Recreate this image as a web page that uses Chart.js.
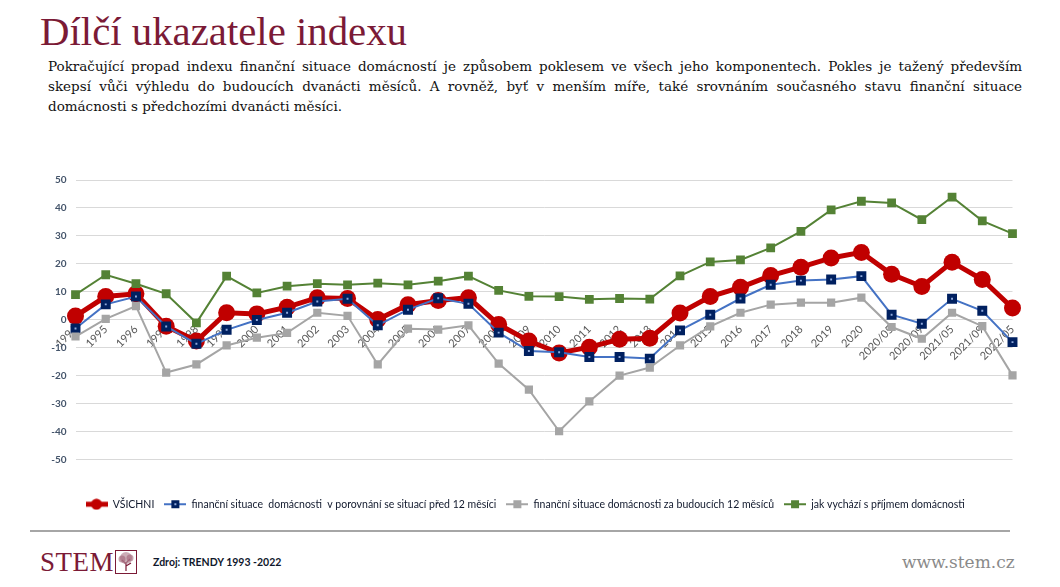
<!DOCTYPE html>
<html lang="cs">
<head>
<meta charset="utf-8">
<title>Dílčí ukazatele indexu</title>
<script src="https://cdn.jsdelivr.net/npm/chart.js@4.4.1/dist/chart.umd.min.js"></script>
<style>
  html, body { margin: 0; padding: 0; background: #fff; }
  body { width: 1060px; height: 587px; position: relative; overflow: hidden; }
  h1 {
    position: absolute; left: 40px; top: 8px; margin: 0;
    font: 40.8px/48px "Liberation Serif", serif; font-weight: normal; color: #7b1a36;
  }
  .intro {
    position: absolute; left: 48px; top: 56px; width: 974px;
    font: 13.5px/20px "DejaVu Serif", serif; color: #111;
  }
  .intro span { display: block; text-align: justify; text-align-last: justify; white-space: nowrap; }
  .intro span.last { text-align-last: left; }
  #wrap { position: absolute; left: 0; top: 160px; width: 1060px; height: 370px; }
  .rule { position: absolute; left: 30px; top: 530px; width: 980px; height: 2px; background: #a6a6a6; }
  .logo {
    position: absolute; left: 40px; top: 547px; margin: 0;
    font: 27px/30px "Liberation Serif", serif; color: #7b1a36; letter-spacing: 0.5px;
  }
  .tree { position: absolute; left: 115px; top: 550px; }
  .source {
    position: absolute; left: 153px; top: 555px;
    font: bold 10.5px/14px Lato, sans-serif; color: #10182c;
  }
  .web {
    position: absolute; left: 902px; top: 551px;
    font: 17px/22px "DejaVu Serif", serif; color: #8a8a8a;
  }
</style>
</head>
<body>
<h1>Dílčí ukazatele indexu</h1>
<div class="intro">
  <span>Pokračující propad indexu finanční situace domácností je způsobem poklesem ve všech jeho komponentech. Pokles je tažený především</span>
  <span>skepsí vůči výhledu do budoucích dvanácti měsíců. A rovněž, byť v menším míře, také srovnáním současného stavu finanční situace</span>
  <span class="last">domácnosti s předchozími dvanácti měsíci.</span>
</div>

<div id="wrap"><canvas id="indexChart"></canvas></div>

<div class="rule"></div>
<div class="logo">STEM</div>
<svg class="tree" width="22" height="24" viewBox="0 0 22 24">
  <rect x="0.5" y="0.5" width="21" height="23" fill="#fff" stroke="#7b1a36"/>
  <path d="M11 21 L11 12 M11 14 L7 10 M11 13 L15 9 M11 16 L16 13" stroke="#7b1a36" stroke-width="1.2" fill="none"/>
  <circle cx="11" cy="8" r="6" fill="#b88a98" opacity="0.7"/>
  <circle cx="7" cy="9" r="3.5" fill="#a06276" opacity="0.6"/>
  <circle cx="15" cy="8" r="3.5" fill="#a06276" opacity="0.6"/>
</svg>
<div class="source">Zdroj: TRENDY 1993 -2022</div>
<div class="web">www.stem.cz</div>

<script>
/* =========================
   DATA
========================= */
const labels = [
  "1994", "1995", "1996", "1997", "1998", "1999", "2000", "2001", "2002", "2003",
  "2004", "2005", "2006", "2007", "2008", "2009", "2010", "2011", "2012", "2013",
  "2014", "2015", "2016", "2017", "2018", "2019", "2020",
  "2020/05", "2020/09", "2021/05", "2021/09", "2022/05"
];

const vsichni = [
  1.3, 8.3, 9.3, -2.3, -7.6, 2.5, 2.1, 4.5, 7.9, 7.6,
  0.1, 5.4, 6.9, 7.9, -1.7, -7.6, -11.9, -9.8, -7.0, -6.6,
  2.4, 8.3, 11.6, 15.8, 18.8, 22.1, 24.1,
  16.3, 11.9, 20.6, 14.4, 4.2
];

const predchozi12 = [
  -3.1, 5.5, 8.3, -2.4, -8.6, -3.6, -0.1, 2.5, 6.5, 7.5,
  -2.0, 3.6, 7.7, 5.7, -4.6, -11.2, -11.6, -13.3, -13.3, -13.9,
  -3.8, 1.8, 7.6, 12.5, 14.0, 14.4, 15.6,
  1.8, -1.4, 7.5, 3.2, -8.0
];

const budoucich12 = [
  -6.0, 0.3, 4.9, -18.9, -16.0, -9.2, -6.4, -4.7, 2.5, 1.4,
  -16.0, -3.2, -3.5, -2.0, -15.7, -25.0, -39.9, -29.2, -20.0, -17.1,
  -9.2, -2.4, 2.5, 5.4, 6.1, 6.1, 7.9,
  -2.6, -6.8, 2.5, -2.3, -19.9
];

const prijem = [
  9.0, 16.1, 12.9, 9.3, -1.1, 15.6, 9.6, 12.0, 12.9, 12.5,
  13.1, 12.5, 13.8, 15.6, 10.5, 8.4, 8.3, 7.3, 7.6, 7.4,
  15.7, 20.7, 21.4, 25.7, 31.6, 39.3, 42.4,
  41.8, 35.8, 43.9, 35.4, 30.8
];

const seriesNames = [
  "VŠICHNI",
  "finanční situace  domácnosti  v porovnání se situací před 12 měsíci",
  "finanční situace domácnosti za budoucích 12 měsíců",
  "jak vychází s příjmem domácnosti"
];

/* =========================
   LEGEND ICONS (line + marker)
========================= */
function legendIcon(draw) {
  const c = document.createElement("canvas");
  c.width = 22;
  c.height = 12;
  draw(c.getContext("2d"));
  return c;
}

const icons = [
  legendIcon(ctx => {
    ctx.strokeStyle = "#c00000"; ctx.lineWidth = 5;
    ctx.beginPath(); ctx.moveTo(0, 6); ctx.lineTo(22, 6); ctx.stroke();
    ctx.fillStyle = "#c00000";
    ctx.beginPath(); ctx.arc(11, 6, 5.5, 0, Math.PI * 2); ctx.fill();
  }),
  legendIcon(ctx => {
    ctx.strokeStyle = "#4472c4"; ctx.lineWidth = 2;
    ctx.beginPath(); ctx.moveTo(0, 6); ctx.lineTo(22, 6); ctx.stroke();
    ctx.fillStyle = "#002060"; ctx.fillRect(7, 2, 8, 8);
    ctx.fillStyle = "#8faadc"; ctx.fillRect(10, 5, 2, 2);
  }),
  legendIcon(ctx => {
    ctx.strokeStyle = "#a5a5a5"; ctx.lineWidth = 2;
    ctx.beginPath(); ctx.moveTo(0, 6); ctx.lineTo(22, 6); ctx.stroke();
    ctx.fillStyle = "#a5a5a5"; ctx.fillRect(7, 2, 8, 8);
  }),
  legendIcon(ctx => {
    ctx.strokeStyle = "#548235"; ctx.lineWidth = 2;
    ctx.beginPath(); ctx.moveTo(0, 6); ctx.lineTo(22, 6); ctx.stroke();
    ctx.fillStyle = "#548235"; ctx.fillRect(7, 2, 8, 8);
  })
];

/* =========================
   CHART
========================= */
(function initChart() {
  const canvas = document.getElementById("indexChart");
  if (!canvas || typeof window.Chart === "undefined") return;

  new Chart(canvas, {
    type: "line",
    data: {
      labels: labels,
      datasets: [
        {
          label: seriesNames[0],
          data: vsichni,
          borderColor: "#c00000",
          backgroundColor: "#c00000",
          borderWidth: 5,
          pointStyle: "circle",
          pointRadius: 8.5,
          pointBackgroundColor: "#c00000",
          pointBorderColor: "#c00000",
          pointBorderWidth: 0,
          order: 4
        },
        {
          label: seriesNames[1],
          data: predchozi12,
          borderColor: "#4472c4",
          backgroundColor: "#4472c4",
          borderWidth: 2,
          pointStyle: "rect",
          pointRadius: 4.2,
          pointBackgroundColor: "#8faadc",
          pointBorderColor: "#002060",
          pointBorderWidth: 4,
          order: 3
        },
        {
          label: seriesNames[2],
          data: budoucich12,
          borderColor: "#a5a5a5",
          backgroundColor: "#a5a5a5",
          borderWidth: 2,
          pointStyle: "rect",
          pointRadius: 5.8,
          pointBackgroundColor: "#a5a5a5",
          pointBorderColor: "#a5a5a5",
          pointBorderWidth: 0,
          order: 2
        },
        {
          label: seriesNames[3],
          data: prijem,
          borderColor: "#548235",
          backgroundColor: "#548235",
          borderWidth: 2,
          pointStyle: "rect",
          pointRadius: 6.2,
          pointBackgroundColor: "#548235",
          pointBorderColor: "#548235",
          pointBorderWidth: 0,
          order: 1
        }
      ]
    },
    options: {
      responsive: true,
      maintainAspectRatio: false,
      animation: false,
      layout: { padding: { left: 0, right: 47.5, top: 20, bottom: 10.5 } },
      elements: { line: { tension: 0 } },
      scales: {
        x: {
          position: { y: 0 },
          afterFit: s => { s.height = 0; },
          grid: { display: false, drawTicks: false },
          border: { display: false },
          ticks: {
            minRotation: 45,
            maxRotation: 45,
            autoSkip: false,
            padding: 3,
            color: "#595959",
            font: { family: "Lato", size: 11 }
          }
        },
        y: {
          min: -50,
          max: 50,
          afterFit: s => { s.width = 75.5; },
          grid: { color: "#d9d9d9", lineWidth: 1, drawTicks: false },
          border: { display: false },
          ticks: {
            stepSize: 10,
            padding: 9,
            color: "#44546a",
            font: { family: "Lato", size: 10, weight: "bold" }
          }
        }
      },
      plugins: {
        tooltip: { enabled: false },
        legend: {
          position: "bottom",
          fullSize: false,
          align: "start",
          title: { display: true, text: "", padding: { top: 17.5, bottom: 0 }, font: { size: 10 } },
          labels: {
            usePointStyle: true,
            pointStyleWidth: 22,
            padding: 10,
            color: "#10182c",
            font: { family: "Lato", size: 10.5 },
            generateLabels: chart => chart.data.datasets.map((ds, i) => ({
              text: ds.label,
              pointStyle: icons[i],
              fillStyle: ds.borderColor,
              strokeStyle: ds.borderColor,
              lineWidth: 0,
              hidden: false,
              datasetIndex: i,
              fontColor: "#10182c"
            }))
          }
        }
      }
    }
  });
})();
</script>
</body>
</html>
